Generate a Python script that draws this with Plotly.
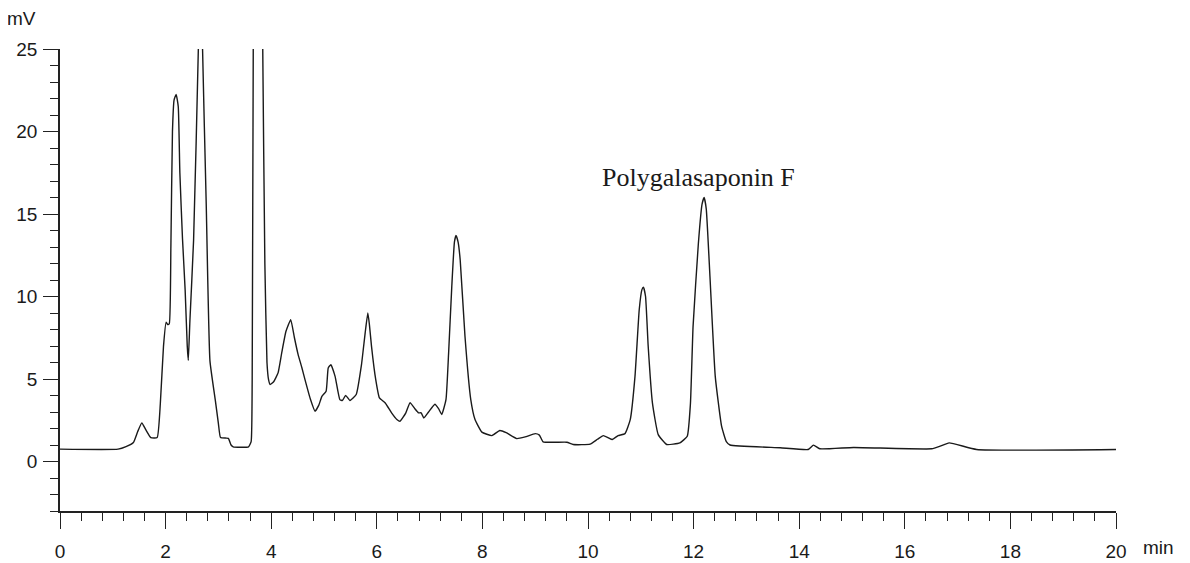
import plotly.graph_objects as go

# Retention time (min) and detector signal (mV)
time_min = [
    0.00, 1.10, 1.25, 1.39, 1.47, 1.55, 1.63, 1.72, 1.84, 1.90, 1.96, 2.01, 2.04, 2.07,
    2.10, 2.13, 2.16, 2.20, 2.24, 2.27, 2.32, 2.37, 2.41, 2.43, 2.46, 2.53, 2.62, 2.66,
    2.70, 2.77, 2.84, 2.94, 3.00, 3.04, 3.15, 3.19, 3.24, 3.28, 3.57, 3.62, 3.64, 3.66,
    3.75, 3.84, 3.88, 3.92, 3.95, 3.98, 4.05, 4.13, 4.20, 4.28, 4.37, 4.44, 4.51, 4.58,
    4.64, 4.74, 4.83, 4.90, 4.96, 5.04, 5.08, 5.13, 5.21, 5.30, 5.35, 5.41, 5.49, 5.61,
    5.71, 5.78, 5.83, 5.86, 5.90, 5.98, 6.05, 6.16, 6.28, 6.38, 6.44, 6.55, 6.63, 6.72,
    6.79, 6.84, 6.89, 6.98, 7.10, 7.17, 7.23, 7.31, 7.36, 7.42, 7.47, 7.50, 7.54, 7.58,
    7.67, 7.78, 7.86, 7.99, 8.18, 8.33, 8.45, 8.65, 8.81, 9.00, 9.08, 9.15, 9.60, 9.72,
    10.04, 10.18, 10.29, 10.38, 10.46, 10.57, 10.70, 10.80, 10.89, 10.97, 11.02, 11.05,
    11.09, 11.14, 11.22, 11.33, 11.49, 11.74, 11.88, 11.94, 11.99, 12.09, 12.16, 12.20,
    12.24, 12.31, 12.41, 12.53, 12.62, 12.69, 13.64, 14.17, 14.27, 14.39, 15.03, 16.51,
    16.67, 16.84, 17.36, 20.00,
]
signal_mv = [
    0.75, 0.75, 0.90, 1.15, 1.80, 2.34, 1.90, 1.45, 1.45, 3.50, 6.98, 8.45, 8.30, 8.35,
    13.0, 20.0, 21.9, 22.25, 21.5, 17.5, 13.5, 10.4, 7.00, 6.13, 8.50, 13.4, 25.0, 35.0,
    25.0, 15.5, 6.10, 3.75, 2.30, 1.45, 1.42, 1.40, 1.00, 0.89, 0.89, 1.20, 5.00, 25.0,
    60.0, 25.0, 12.0, 6.00, 4.96, 4.66, 4.85, 5.37, 6.60, 7.89, 8.60, 7.50, 6.48, 5.70,
    4.96, 3.80, 3.05, 3.40, 3.95, 4.26, 5.67, 5.87, 5.16, 3.75, 3.70, 4.01, 3.70, 4.06,
    5.87, 7.80, 9.00, 8.30, 6.98, 4.96, 3.85, 3.55, 2.95, 2.55, 2.44, 2.95, 3.57, 3.20,
    2.95, 2.95, 2.64, 3.00, 3.47, 3.20, 2.85, 3.75, 6.58, 10.6, 13.3, 13.7, 13.3, 12.2,
    7.59, 3.75, 2.54, 1.78, 1.57, 1.88, 1.75, 1.39, 1.49, 1.69, 1.60, 1.19, 1.17, 1.03,
    1.05, 1.35, 1.57, 1.45, 1.33, 1.57, 1.69, 2.54, 5.16, 9.20, 10.4, 10.57,
    10.0, 6.98, 3.55, 1.63, 1.03, 1.13, 1.53, 3.50, 8.19, 13.2, 15.6, 16.0,
    15.3, 11.2, 5.16, 2.14, 1.20, 1.00, 0.83, 0.73, 0.99, 0.77, 0.85, 0.77,
    0.93, 1.13, 0.73, 0.73,
]

x_tick_vals = [0, 2, 4, 6, 8, 10, 12, 14, 16, 18, 20]
y_tick_vals = [0, 5, 10, 15, 20, 25]
peak_label = "Polygalasaponin F"
peak_label_pos = (12.1, 17.2)

fig = go.Figure()
fig.add_trace(go.Scatter(
    x=time_min, y=signal_mv, mode="lines",
    line=dict(color="#1a1a1a", width=1.4, shape="spline", smoothing=0.4),
    hoverinfo="x+y", showlegend=False,
))

tick_font = dict(family="Liberation Sans, Arial, sans-serif", size=19, color="#1a1a1a")

# page body has an 8px default margin, so the figure is sized/margined to compensate
fig.update_layout(
    width=1182, height=555,
    margin=dict(l=52, r=74, t=41, b=52, autoexpand=False),
    paper_bgcolor="white", plot_bgcolor="white",
    font=tick_font,
    xaxis=dict(
        range=[0, 20], tickvals=x_tick_vals, ticks="outside", ticklen=16, tickwidth=1.3,
        tickcolor="#222", showline=True, linecolor="#222", linewidth=1.5,
        showgrid=False, zeroline=False, tickfont=tick_font, ticklabelstandoff=6,
        minor=dict(dtick=0.4, tick0=0, ticks="outside", ticklen=8, tickwidth=1.2, tickcolor="#222"),
    ),
    yaxis=dict(
        range=[-3, 25], tickvals=y_tick_vals, ticks="outside", ticklen=15, tickwidth=1.3,
        tickcolor="#222", showline=True, linecolor="#222", linewidth=1.5,
        showgrid=False, zeroline=False, tickfont=tick_font, ticklabelstandoff=2,
        minor=dict(dtick=1, tick0=0, ticks="outside", ticklen=8, tickwidth=1.2, tickcolor="#222"),
    ),
    annotations=[
        dict(text="mV", xref="paper", yref="paper", x=-0.036, y=1.065,
             showarrow=False, font=tick_font, xanchor="center", yanchor="middle"),
        dict(text="min", xref="paper", yref="paper", x=1.0407, y=-0.080,
             showarrow=False, font=tick_font, xanchor="center", yanchor="middle"),
        dict(text=peak_label, x=peak_label_pos[0], y=peak_label_pos[1], xref="x", yref="y",
             showarrow=False, font=dict(family="Liberation Serif, Times New Roman, serif", size=26, color="#1a1a1a"),
             xanchor="center", yanchor="middle"),
    ],
)

fig.write_html("out.html")
